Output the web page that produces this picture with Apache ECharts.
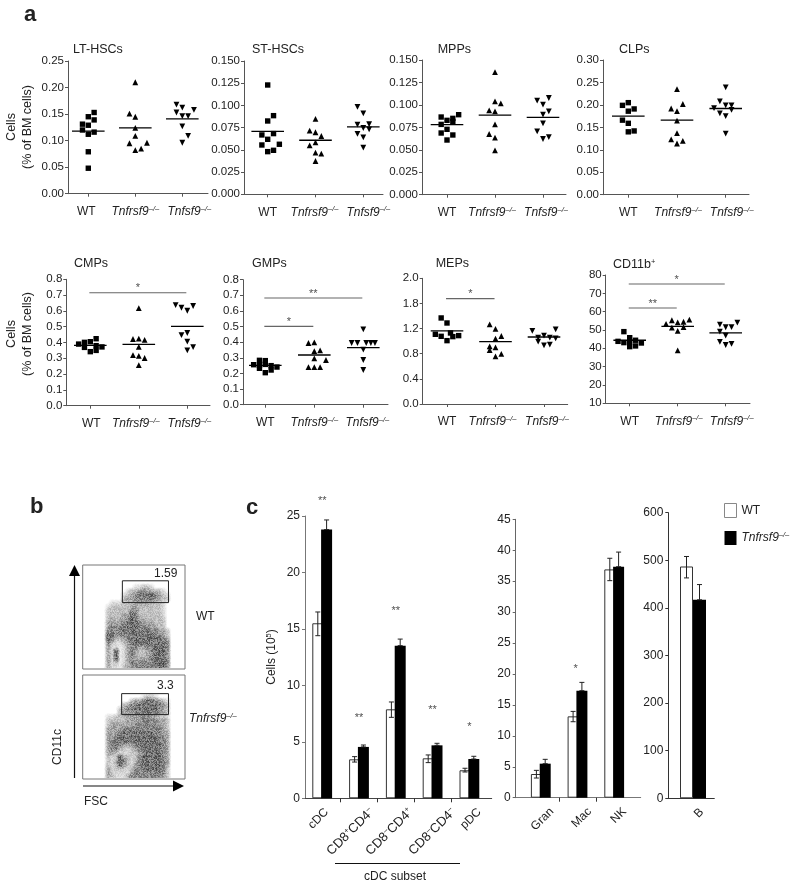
<!DOCTYPE html>
<html><head><meta charset="utf-8">
<style>html,body{margin:0;padding:0;background:#fff}#c{width:800px;height:889px}</style>
<script src="https://cdn.jsdelivr.net/npm/echarts@6/dist/echarts.min.js"></script>
</head><body><div id="c"></div>
<script>
// ---------- panel a: values ----------
const groupLabels = ['WT', 'Tnfrsf9', 'Tnfsf9'];
const panelTitles = ['LT-HSCs','ST-HSCs','MPPs','CLPs','CMPs','GMPs','MEPs','CD11b'];

const ticksLT  = ['0.00','0.05','0.10','0.15','0.20','0.25'];
const ticksST  = ['0.000','0.025','0.050','0.075','0.100','0.125','0.150'];
const ticksMPP = ['0.000','0.025','0.050','0.075','0.100','0.125','0.150'];
const ticksCLP = ['0.00','0.05','0.10','0.15','0.20','0.25','0.30'];
const ticksCMP = ['0.0','0.1','0.2','0.3','0.4','0.5','0.6','0.7','0.8'];
const ticksGMP = ['0.0','0.1','0.2','0.3','0.4','0.5','0.6','0.7','0.8'];
const ticksMEP = ['0.0','0.4','0.8','1.2','1.8','2.0'];
const ticksCD  = ['10','20','30','40','50','60','70','80'];

const ltWt   = [.153,.145,.139,.131,.129,.120,.116,.112,.079,.048];
const ltWtJ  = [1,0,1,-1,0,-1,1,0,0,0];
const ltKo   = [.210,.151,.145,.124,.109,.095,.096,.085,.082];
const ltKoJ  = [0,-1,0,0,0,-1,2,1,0];
const ltLg   = [.168,.162,.158,.153,.146,.146,.127,.109,.096];
const ltLgJ  = [-1,0,2,-1,0,1,0,1,0];
const ltMean = [.118,.124,.141];

const stWt   = [.123,.0885,.0825,.0668,.0683,.0619,.0555,.0563,.048,.0495];
const stWtJ  = [0,1,0,-1,1,0,-1,2,0,1];
const stKo   = [.0848,.0716,.0698,.0656,.0585,.0551,.0469,.0458,.0375];
const stKoJ  = [0,-1,0,1,0,-1,0,1,0];
const stLg   = [.0983,.0911,.0784,.0788,.0746,.0731,.0679,.0641,.0525];
const stLgJ  = [-1,0,-1,1,0,1,-1,0,0];
const stMean = [.0709,.0608,.0758];

const mpWt   = [.0865,.0891,.085,.0828,.0783,.0813,.0728,.0687,.0665,.0609];
const mpWtJ  = [-1,2,1,0,-1,1,0,-1,1,0];
const mpKo   = [.1366,.104,.1017,.0939,.0928,.0783,.0676,.0635,.0494];
const mpKoJ  = [0,0,1,-1,0,0,-1,0,0];
const mpLg   = [.1047,.1077,.1003,.0928,.0891,.0795,.0705,.0642,.062];
const mpLgJ  = [-1,1,0,1,0,0,-1,1,0];
const mpMean = [.078,.0887,.0861];

const clWt   = [.205,.199,.191,.186,.166,.159,.142,.140];
const clWtJ  = [0,-1,1,0,-1,0,1,0];
const clKo   = [.235,.202,.192,.186,.165,.137,.123,.120,.114];
const clKoJ  = [0,1,-1,0,0,0,-1,1,0];
const clLg   = [.239,.208,.193,.199,.199,.189,.181,.175,.136];
const clLgJ  = [0,-1,-2,0,1,1,-1,0,0];
const clMean = [.175,.166,.192];

const cmWt   = [.390,.401,.405,.424,.369,.380,.372,.342,.350];
const cmWtJ  = [-2,-1,0,1,-1,1,2,0,1];
const cmKo   = [.618,.422,.424,.416,.372,.320,.315,.302,.257];
const cmKoJ  = [0,-1,0,1,0,-1,0,1,0];
const cmLg   = [.637,.620,.601,.631,.460,.447,.405,.371,.350];
const cmLgJ  = [-2,-1,0,1,0,-1,0,1,0];
const cmMean = [.382,.388,.502];

const gmWt   = [.256,.284,.282,.252,.258,.250,.241,.233,.222,.205];
const gmWtJ  = [-2,-1,0,-1,0,1,2,-1,1,0];
const gmKo   = [.395,.399,.343,.348,.297,.286,.241,.241,.241];
const gmKoJ  = [-1,0,0,1,0,2,-1,0,1];
const gmLg   = [.482,.395,.395,.395,.395,.395,.352,.286,.222];
const gmLgJ  = [0,-2,-1,.5,1.3,2,0,0,0];
const gmMean = [.252,.318,.365];

const meWt   = [1.369,1.289,1.109,1.077,1.130,1.072,1.088,1.008];
const meWtJ  = [-1,0,-2,-1,.6,1,2,0];
const meKo   = [1.268,1.194,1.040,1.082,.918,.902,.859,.796,.759];
const meKoJ  = [-1,0,0,1,-1,0,-1,1,0];
const meLg   = [1.162,1.188,1.088,1.056,1.056,1.045,.992,.934,.944];
const meLgJ  = [-2,2,0,-1,1,2,-1,0,1];
const meMean = [1.162,.992,1.066];

const cdWt   = [49.1,43.8,45.8,43.1,43.6,44.4,42.9,40.9,41.3];
const cdWtJ  = [-1,-2,0,-1,0,1,2,0,1];
const cdKo   = [53.3,55.3,54.2,54.5,55.6,51.3,51.6,49.5,38.9];
const cdKoJ  = [-2,-1,0,1,2,-1,1,0,0];
const cdLg   = [52.9,51.5,51.6,54,49.1,46.9,43.5,41.8,42.4];
const cdLgJ  = [-1,0,1,2,-1,0,-1,0,1];
const cdMean = [44.4,52,48.4];

// significance: from group, to group, height, mark
const sigCM = [[0,2,.715,'*']];
const sigGM = [[0,2,.683,'**'],[0,1,.501,'*']];
const sigME = [[0,1,1.676,'*']];
const sigCD = [[0,2,75.1,'*'],[0,1,62,'**']];

// ---------- panel c: values ----------
const subsetCats = ['cDC','CD8+CD4–','CD8–CD4+','CD8–CD4–','pDC'];
const subsetWt   = [15.5,3.45,7.88,3.54,2.48];
const subsetWtLo = [14.4,3.21,7.17,3.16,2.33];
const subsetWtHi = [16.5,3.69,8.53,3.84,2.66];
const subsetKo   = [23.8,4.55,13.52,4.69,3.48];
const subsetKoHi = [24.65,4.72,14.1,4.87,3.72];
const subsetStars= [[0,26.35,'**'],[1,7.15,'**'],[2,16.6,'**'],[3,7.85,'**'],[4,6.35,'*']];

const myeloidCats = ['Gran','Mac','NK'];
const myeloidWt   = [3.83,13.15,36.9];
const myeloidWtLo = [3.18,12.28,35.08];
const myeloidWtHi = [4.42,13.95,38.7];
const myeloidKo   = [5.5,17.3,37.34];
const myeloidKoHi = [6.2,18.64,39.7];
const myeloidStars= [[.95,20.8,'*']];

const bCats = ['B'];
const bWt   = [487];
const bWtLo = [463];
const bWtHi = [508];
const bKo   = [417];
const bKoHi = [449];

// ---------- panel b: density, 0 = empty ... 9 = darkest ----------
const flowWT = [
'00000000000000000000000000','00000000000000000000000000','00000000000000000000000000','00000000000000000000000000','00000000000000000000000000',
'00000000000002233200000000',
'00000000000233454433200000',
'00000000002345677654320000',
'00000000003445555654330000',
'00000002223334444333200000',
'00000023333344333333200000',
'00000033333355333333200000',
'00000033334465333333200000',
'00000034344565443333300000',
'00000044445676544433300000',
'00000045555676555443300000',
'00000055556566566554430000',
'00000066555556666655430000',
'00000065334566666666540000',
'00000053223466666666650000',
'00000042212455445566650000',
'00000042712454334566650000',
'00000042812454334566650000',
'00000042712454444566650000',
'00000042312455555566650000',
'00000042213455555556650000'];
const flowKO = [
'00000000000000000000000000','00000000000000000000000000','00000000000000000000000000','00000000000000000000000000','00000000000000000000000000',
'00000000000000023320000000',
'00000000000034456654320000',
'00000000003455667776530000',
'00000000034556667665430000',
'00000000034445556555430000',
'00000022333444455443320000',
'00000033333444455554430000',
'00000034444445555554430000',
'00000044445555555555430000',
'00000044456666666655440000',
'00000044566666666665540000',
'00000045666656666665540000',
'00000045654445666666540000',
'00000045533234566666540000',
'00000044322233456666540000',
'00000032374323566666540000',
'00000032485323566666540000',
'00000032374324566666540000',
'00000042333235556666530000',
'00000043222245555565530000',
'00000043222455555555430000'];
const gateWT = [[10.08,3.95],[21.8,3.95],[21.8,9.4],[10.08,9.4],[10.08,3.95]];
const gateKO = [[9.9,4.66],[21.8,4.66],[21.8,9.9],[9.9,9.9],[9.9,4.66]];

// ---------- styling / layout ----------
const FONT = '"Liberation Sans", Arial, sans-serif';
const INK = '#222';
const DARK = [0,.08,.16,.26,.36,.46,.56,.68,.82,.95];
const supLabel = {
  i:{fontFamily:FONT,fontSize:12,fontStyle:'italic',color:INK,lineHeight:14},
  a:{fontFamily:FONT,fontSize:12,color:INK,lineHeight:14},
  b:{fontFamily:FONT,fontSize:13,color:INK,lineHeight:15},
  s:{fontFamily:FONT,fontSize:7.5,color:INK,verticalAlign:'top',lineHeight:8},
  si:{fontFamily:FONT,fontSize:7.5,fontStyle:'italic',color:INK,verticalAlign:'top',lineHeight:8}
};
const koRich = '{i|Tnfrsf9}{si|–/–}';
const JIT = 5.83, HALF = 16.3;

const grids=[], xAxes=[], yAxes=[], series=[], titles=[];

function addDotPanel(p){
  const idx = grids.length;
  grids.push({left:p.L, top:p.T, width:p.R-p.L, height:p.B-p.T, containLabel:false});
  const labelAt=p.shift.map((o,i)=>i+o/p.sp);
  xAxes.push({gridIndex:idx,type:'value',min:(p.L-p.c0)/p.sp,max:(p.R-p.c0)/p.sp,
    splitLine:{show:false},
    axisLine:{onZero:false,lineStyle:{color:'#555',width:1}},
    axisTick:{customValues:[0,1,2],length:3,lineStyle:{color:'#555'}},
    axisLabel:{customValues:labelAt,margin:11,rich:supLabel,hideOverlap:false,showMinLabel:true,showMaxLabel:true,
      formatter:v=>{const k=labelAt.indexOf(v); return k===0?'{a|'+groupLabels[0]+'}':'{i|'+groupLabels[k]+'}{si|–/–}';}}});
  const n=p.ticks.length-1, step=(p.max-p.min)/n;
  yAxes.push({gridIndex:idx,type:'value',min:p.min,max:p.max,interval:step,
    splitLine:{show:false},
    axisLine:{onZero:false,lineStyle:{color:'#555',width:1}},
    axisTick:{length:3,lineStyle:{color:'#555'}},
    axisLabel:{fontFamily:FONT,fontSize:11.5,color:INK,margin:4,showMinLabel:true,showMaxLabel:true,
      formatter:v=>p.ticks[Math.round((v-p.min)/step)]}});
  const syms=[['rect',5.4,0],['triangle',5.8,0],['triangle',5.8,180]];
  p.groups.forEach((g,i)=>{
    const [vals,jit]=g, [sym,size,rot]=syms[i];
    series.push({type:'scatter',xAxisIndex:idx,yAxisIndex:idx,symbol:sym,symbolSize:size,symbolRotate:rot,
      itemStyle:{color:'#000',opacity:1},silent:true,z:3,
      data:vals.map((v,k)=>[i+jit[k]*JIT/p.sp,v])});
    series.push({type:'line',xAxisIndex:idx,yAxisIndex:idx,symbol:'none',silent:true,z:4,
      lineStyle:{color:'#000',width:1.3},
      data:[[i-HALF/p.sp,p.mean[i]],[i+HALF/p.sp,p.mean[i]]]});
  });
  (p.sig||[]).forEach(s=>{
    const a=s[0]-.02,b=s[1]-.02;
    series.push({type:'line',xAxisIndex:idx,yAxisIndex:idx,symbol:'none',silent:true,
      lineStyle:{color:'#666',width:1.2},data:[[a,s[2]],[b,s[2]]]});
    series.push(starSeries(idx,[[(a+b)/2,s[2]+(p.max-p.min)*0.035,s[3]]]));
  });
}
function starSeries(idx,arr){
  return {type:'scatter',xAxisIndex:idx,yAxisIndex:idx,symbolSize:1,clip:false,silent:true,z:6,
    itemStyle:{color:'rgba(0,0,0,0)'},
    label:{show:true,position:'inside',fontFamily:FONT,fontSize:11,color:INK,formatter:o=>o.data[2]},
    data:arr};
}

addDotPanel({L:68,R:208,T:61,B:193.7,c0:88.3,sp:47,min:0,max:.25,ticks:ticksLT,shift:[-2,0,7],mean:ltMean,groups:[[ltWt,ltWtJ],[ltKo,ltKoJ],[ltLg,ltLgJ]]});
addDotPanel({L:244,R:383,T:61,B:194.3,c0:267.7,sp:47.8,min:0,max:.15,ticks:ticksST,shift:[0,-1,5],mean:stMean,groups:[[stWt,stWtJ],[stKo,stKoJ],[stLg,stLgJ]]});
addDotPanel({L:422,R:566,T:60,B:194.7,c0:447,sp:48,min:0,max:.15,ticks:ticksMPP,shift:[0,-3,3],mean:mpMean,groups:[[mpWt,mpWtJ],[mpKo,mpKoJ],[mpLg,mpLgJ]]});
addDotPanel({L:603,R:749,T:60,B:194.7,c0:628.3,sp:48.7,min:0,max:.3,ticks:ticksCLP,shift:[0,1,6],mean:clMean,groups:[[clWt,clWtJ],[clKo,clKoJ],[clLg,clLgJ]]});
addDotPanel({L:66.3,R:210,T:279.3,B:405.7,c0:90.3,sp:48.5,min:0,max:.8,ticks:ticksCMP,shift:[1,-3,2],mean:cmMean,sig:sigCM,groups:[[cmWt,cmWtJ],[cmKo,cmKoJ],[cmLg,cmLgJ]]});
addDotPanel({L:243,R:388,T:279.7,B:404.7,c0:265.3,sp:49,min:0,max:.8,ticks:ticksGMP,shift:[0,0,4],mean:gmMean,sig:sigGM,groups:[[gmWt,gmWtJ],[gmKo,gmKoJ],[gmLg,gmLgJ]]});
addDotPanel({L:422.7,R:567.7,T:278.3,B:404,c0:447,sp:48.5,min:0,max:2,ticks:ticksMEP,shift:[0,-3,3],mean:meMean,sig:sigME,groups:[[meWt,meWtJ],[meKo,meKoJ],[meLg,meLgJ]]});
addDotPanel({L:605.7,R:750,T:275,B:403.3,c0:629.7,sp:48,min:10,max:80,ticks:ticksCD,shift:[0,1,6],mean:cdMean,sig:sigCD,groups:[[cdWt,cdWtJ],[cdKo,cdKoJ],[cdLg,cdLgJ]]});

const titlePos=[[73,43],[252,43],[437.7,43],[619,43],[74,257],[252,257],[435.7,257],[613,258]];
panelTitles.forEach((t,i)=>{
  titles.push({text:i===7?'{a|CD11b}{s|+}':t,left:titlePos[i][0],top:titlePos[i][1],padding:0,
    textStyle:{fontFamily:FONT,fontSize:12.5,fontWeight:'normal',color:INK,rich:{
      a:{fontFamily:FONT,fontSize:12.5,color:INK,lineHeight:14},
      s:{fontFamily:FONT,fontSize:7.5,color:INK,verticalAlign:'top',lineHeight:8}}}});
});

// ---------- density plots ----------
function addFlow(rows,gate,L,T,R,B){
  const idx=grids.length;
  grids.push({left:L,top:T,width:R-L,height:B-T,show:true,borderColor:'#777',borderWidth:1,backgroundColor:'#fff'});
  xAxes.push({gridIndex:idx,type:'value',min:0,max:26,show:false});
  yAxes.push({gridIndex:idx,type:'value',min:0,max:26,inverse:true,show:false});
  const cells=[];
  rows.forEach((r,y)=>{for(let x=0;x<r.length;x++){const d=+r[x]; if(d>0) cells.push([x,y,d]);}});
  series.push({type:'custom',xAxisIndex:idx,yAxisIndex:idx,silent:true,z:2,data:cells,
    renderItem(params,api){
      const c=api.coord([api.value(0)+.5,api.value(1)+.5]), cs=params.coordSys;
      const cell=cs.width/26, r=cell*1.1;
      const D=Math.min(.98,DARK[api.value(2)]*1.35);
      const al=Math.min(1,-Math.log(1-D)/(Math.PI*1.21/3));
      return {type:'circle',shape:{cx:c[0],cy:c[1],r},
        clipPath:{type:'rect',shape:{x:cs.x+1,y:cs.y+1,width:cs.width-2,height:cs.height-2}},
        style:{fill:{type:'radial',x:.5,y:.5,r:.5,colorStops:[
          {offset:0,color:'rgba(30,30,30,'+al.toFixed(3)+')'},{offset:1,color:'rgba(30,30,30,0)'}]}}};
    }});
  series.push({type:'line',xAxisIndex:idx,yAxisIndex:idx,symbol:'none',silent:true,z:5,
    lineStyle:{color:'#222',width:1},data:gate});
}
addFlow(flowWT,gateWT,82.7,565,185,669);
addFlow(flowKO,gateKO,82.7,675,185,779);

// fine dot texture laid over the density shading
function dotTexture(w,h,seed){
  const c=document.createElement('canvas'); c.width=w; c.height=h;
  const g=c.getContext('2d'), im=g.createImageData(w,h);
  let s=seed;
  for(let i=0;i<w*h;i++){
    s=(s*1103515245+12345)&0x7fffffff;
    const v=(s>>16)&255;
    im.data[i*4]=im.data[i*4+1]=im.data[i*4+2]=255;
    im.data[i*4+3]=Math.round(v*.5);
  }
  g.putImageData(im,0,0);
  return c;
}

// ---------- bar panels ----------
function addBars(p){
  const idx=grids.length;
  grids.push({left:p.L,top:p.T,width:p.R-p.L,height:p.B-p.T});
  xAxes.push({gridIndex:idx,type:'value',min:(p.L-p.c0)/p.sp,max:(p.R-p.c0)/p.sp,
    splitLine:{show:false},
    axisLine:{onZero:false,lineStyle:{color:p.xc,width:1}},
    axisTick:{customValues:p.sep,length:4,inside:false,lineStyle:{color:'#333'},show:p.sep.length>0},
    axisLabel:{customValues:p.labelAt,rotate:45,margin:12,rich:supLabel,hideOverlap:false,showMinLabel:true,showMaxLabel:true,
      formatter:v=>{const c=p.cats[p.labelAt.indexOf(v)]; return c.replace(/^(CD8)([+–])(CD4)([+–])$/,(m,a,b,d,e)=>'{b|'+a+'}{s|'+b+'}{b|'+d+'}{s|'+e+'}').replace(/^([A-Za-z]+)$/,'{a|$1}');}}});
  yAxes.push({gridIndex:idx,type:'value',min:0,max:p.max,interval:p.step,splitLine:{show:false},
    axisLine:{onZero:false,lineStyle:{color:p.yc,width:1}},
    axisTick:{length:3,lineStyle:{color:p.yc}},
    axisLabel:{fontFamily:FONT,fontSize:12,color:INK,margin:5,showMinLabel:true,showMaxLabel:true}});
  series.push({name:'WT',type:'bar',xAxisIndex:idx,yAxisIndex:idx,barWidth:p.bw,barGap:p.gap,silent:true,z:2,
    itemStyle:{color:'#fff',borderColor:'#333',borderWidth:1},
    data:p.wt.map((v,i)=>[i,v])});
  series.push({name:'Tnfrsf9',type:'bar',xAxisIndex:idx,yAxisIndex:idx,barWidth:p.bw,barGap:p.gap,silent:true,z:3,
    itemStyle:{color:'#000',borderColor:'#000',borderWidth:0},
    data:p.ko.map((v,i)=>[i,v])});
  const errs=(arr,off)=>({type:'custom',xAxisIndex:idx,yAxisIndex:idx,silent:true,z:5,clip:false,data:arr,
    renderItem(_,api){
      const x=api.coord([api.value(0),0])[0]+off, hi=api.coord([0,api.value(2)])[1], lo=api.coord([0,api.value(1)])[1];
      const ln=(a,b,c,d)=>({type:'line',shape:{x1:a,y1:b,x2:c,y2:d},style:{stroke:'#222',lineWidth:1}});
      return {type:'group',children:[ln(x,lo,x,hi),ln(x-2.5,hi,x+2.5,hi),ln(x-2.5,lo,x+2.5,lo)]};
    }});
  series.push(errs(p.wt.map((v,i)=>[i,p.wlo[i],p.whi[i]]),-p.off));
  series.push(errs(p.ko.map((v,i)=>[i,v,p.khi[i]]),p.off));
  if(p.stars) series.push(starSeries(idx,p.stars));
}
addBars({L:305,R:491.7,T:516,B:798.3,c0:322.2,sp:36.8,max:25,step:5,cats:subsetCats,sep:[.5,1.5,2.5,3.5],labelAt:[.12,1.35,2.41,3.57,4.27],
  wt:subsetWt,wlo:subsetWtLo,whi:subsetWtHi,ko:subsetKo,khi:subsetKoHi,stars:subsetStars,bw:11,gap:'-20%',off:4.4,xc:'#444',yc:'#777'});
addBars({L:515.7,R:640.7,T:519.3,B:797.7,c0:540.8,sp:36.7,max:45,step:5,cats:myeloidCats,sep:[.5,1.5],labelAt:[.3,1.33,2.28],
  wt:myeloidWt,wlo:myeloidWtLo,whi:myeloidWtHi,ko:myeloidKo,khi:myeloidKoHi,stars:myeloidStars,bw:11,gap:'-20%',off:4.4,xc:'#777',yc:'#666'});
addBars({L:668.3,R:714.3,T:512.7,B:798.3,c0:693,sp:36.7,max:600,step:100,cats:bCats,sep:[],labelAt:[.24],
  wt:bWt,wlo:bWtLo,whi:bWtHi,ko:bKo,khi:bKoHi,bw:13,gap:'0%',off:6.5,xc:'#333',yc:'#333'});

// ---------- free annotations ----------
const txt=(x,y,text,o={})=>({type:'text',x,y,rotation:o.rot||0,silent:true,z:20,
  style:{text,fontFamily:FONT,fontSize:o.size||12,fontWeight:o.bold?'bold':'normal',fill:INK,
    align:o.align||'left',verticalAlign:'middle',rich:o.rich}});
const ln=(x1,y1,x2,y2,c='#111',w=1.2)=>({type:'line',silent:true,z:20,shape:{x1,y1,x2,y2},style:{stroke:c,lineWidth:w}});
const tri=(pts)=>({type:'polygon',silent:true,z:20,shape:{points:pts},style:{fill:'#000'}});
const tex=(x,y,w,h,seed)=>({type:'image',silent:true,z:3,x,y,style:{image:dotTexture(w,h,seed),x:0,y:0,width:w,height:h}});
const graphic=[
  tex(84,566,100,102,12345), tex(84,676,100,102,987),
  txt(24,15,'a',{size:22,bold:true}),
  txt(30,507,'b',{size:22,bold:true}),
  txt(246,508,'c',{size:22,bold:true}),
  txt(12,127,'Cells',{rot:Math.PI/2,align:'center',size:12.5}),
  txt(28,127,'(% of BM cells)',{rot:Math.PI/2,align:'center',size:12.5}),
  txt(12,334,'Cells',{rot:Math.PI/2,align:'center',size:12.5}),
  txt(28,334,'(% of BM cells)',{rot:Math.PI/2,align:'center',size:12.5}),
  txt(272,657,'{a|Cells (10}{s|5}{a|)}',{rot:Math.PI/2,align:'center',rich:supLabel}),
  txt(154,574,'1.59'), txt(157,686,'3.3'),
  txt(196,617,'WT'), txt(189,719,koRich,{rich:supLabel}),
  txt(58,747,'CD11c',{rot:Math.PI/2,align:'center'}),
  txt(84,802,'FSC'),
  ln(74.5,572,74.5,778), tri([[74.5,565],[69,576],[80,576]]),
  ln(83,786,176,786), tri([[184,786],[173,780.5],[173,791.5]]),
  ln(335,863.5,460,863.5,'#111',1),
  txt(395,877,'cDC subset',{align:'center'})
];

const chart=echarts.init(document.getElementById('c'),null,{renderer:'canvas'});
chart.setOption({
  animation:false,backgroundColor:'#fff',
  textStyle:{fontFamily:FONT},
  title:titles,grid:grids,xAxis:xAxes,yAxis:yAxes,series,graphic,
  tooltip:{show:false},
  legend:{left:724,top:503,padding:0,orient:'vertical',icon:'rect',itemWidth:12,itemHeight:14,itemGap:13,selectedMode:false,
    data:[{name:'WT',itemStyle:{color:'#fff',borderColor:'#888',borderWidth:1}},{name:'Tnfrsf9'}],
    formatter:n=>n==='WT'?'{a|WT}':koRich,
    textStyle:{rich:supLabel}}
});
</script></body></html>
